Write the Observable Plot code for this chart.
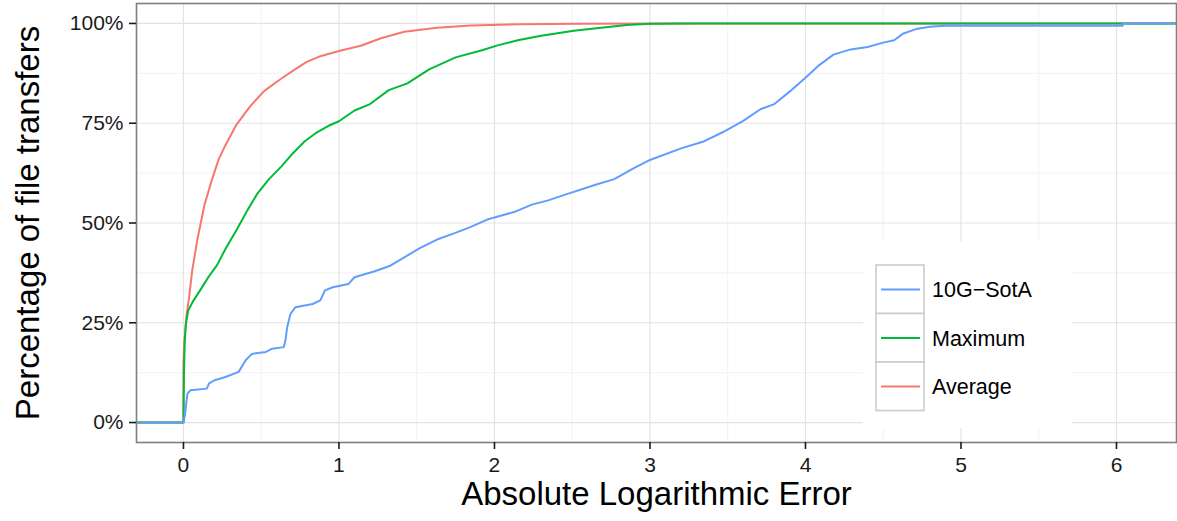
<!DOCTYPE html>
<html><head><meta charset="utf-8">
<script src="https://cdn.jsdelivr.net/npm/d3@7"></script>
<script src="https://cdn.jsdelivr.net/npm/@observablehq/plot@0.6"></script>
<style>body{margin:0;background:#fff;} #chart{position:relative;width:1177px;height:521px;}</style>
</head><body><div id="chart"></div>
<script>
// Series and colours
const seriesNames = ["10G\u2212SotA", "Maximum", "Average"];
const seriesColors = ["#619CFF", "#00BA38", "#F8766D"];
const drawOrder = ["Average", "Maximum", "10G\u2212SotA"];

// Average (ECDF, % of file transfers)
const averageX = [0, 0, 0.005, 0.02, 0.035, 0.056, 0.09, 0.135, 0.18, 0.227, 0.27, 0.34, 0.43, 0.52, 0.63, 0.71, 0.79, 0.88, 1.0, 1.14, 1.27, 1.42, 1.63, 1.85, 2.17, 2.55, 3.2];
const averageY = [0, 15, 20, 27, 31, 38, 46, 54.5, 60.5, 66, 69.5, 74.6, 79.3, 83.1, 86.2, 88.3, 90.3, 91.8, 93.1, 94.4, 96.3, 97.9, 98.9, 99.5, 99.8, 99.93, 100];

// Maximum
const maximumX = [0, 0.003, 0.008, 0.015, 0.03, 0.06, 0.11, 0.163, 0.217, 0.27, 0.345, 0.41, 0.474, 0.55, 0.63, 0.70, 0.78, 0.85, 0.93, 1.0, 1.1, 1.2, 1.32, 1.44, 1.58, 1.75, 1.92, 2.02, 2.15, 2.3, 2.51, 2.85, 3.0, 3.3];
const maximumY = [0, 12, 20, 24.5, 28, 30.3, 33.3, 36.6, 39.5, 43.5, 48.5, 53.1, 57.3, 61, 64.2, 67.3, 70.5, 72.5, 74.3, 75.5, 78.2, 79.8, 83.3, 85, 88.5, 91.5, 93.3, 94.5, 95.8, 96.9, 98.2, 99.6, 99.9, 100];

// 10G-SotA
const sotaX = [0, 0.01, 0.025, 0.045, 0.15, 0.165, 0.2, 0.27, 0.355, 0.4, 0.44, 0.53, 0.57, 0.645, 0.656, 0.667, 0.688, 0.72, 0.83, 0.88, 0.91, 0.96, 1.06, 1.1, 1.23, 1.33, 1.42, 1.52, 1.64, 1.74, 1.84, 1.95, 2.0, 2.13, 2.24, 2.34, 2.47, 2.65, 2.77, 2.9, 3.0, 3.2, 3.35, 3.47, 3.6, 3.71, 3.8, 3.91, 4.0, 4.08, 4.18, 4.29, 4.4, 4.5, 4.57, 4.63, 4.72, 4.8, 4.9, 6.04, 6.04];
const sotaY = [0, 2, 7.2, 8.1, 8.5, 9.8, 10.6, 11.4, 12.7, 15.6, 17.2, 17.7, 18.5, 18.9, 20.6, 23.9, 27.2, 28.9, 29.7, 30.6, 33.1, 33.9, 34.7, 36.4, 37.9, 39.3, 41.4, 43.7, 46, 47.4, 48.9, 50.8, 51.4, 52.8, 54.6, 55.6, 57.3, 59.6, 61, 63.8, 65.8, 68.7, 70.5, 72.8, 75.6, 78.5, 79.8, 83.3, 86.4, 89.3, 92.2, 93.5, 94.1, 95.2, 95.8, 97.5, 98.7, 99.2, 99.45, 99.45, 100];

// Axis ticks
const xTicks = [0, 1, 2, 3, 4, 5, 6];
const xMinorTicks = [0.5, 1.5, 2.5, 3.5, 4.5, 5.5];
const yTicks = [0, 0.25, 0.5, 0.75, 1];
const yTickLabels = ["0%", "25%", "50%", "75%", "100%"];
const yMinorTicks = [0.125, 0.375, 0.625, 0.875];
const xTitle = "Absolute Logarithmic Error";
const yTitle = "Percentage of file transfers";

const xDomain = [-0.302, 6.386];
const yDomain = [-0.05, 1.05];

function toRows(name, xs, ys) {
  const rows = [{series: name, x: xDomain[0], y: 0}];
  xs.forEach((x, i) => rows.push({series: name, x, y: ys[i] / 100}));
  rows.push({series: name, x: xDomain[1], y: 1});
  return rows;
}
const bySeries = {
  "Average": toRows("Average", averageX, averageY),
  "Maximum": toRows("Maximum", maximumX, maximumY),
  "10G\u2212SotA": toRows("10G\u2212SotA", sotaX, sotaY)
};
const rows = drawOrder.flatMap(n => bySeries[n]);

const font = "'Liberation Sans', Arial, Helvetica, sans-serif";
const chart = Plot.plot({
  width: 1177, height: 521,
  marginLeft: 136, marginRight: 1, marginTop: 3, marginBottom: 79,
  style: {fontFamily: font, background: "white", color: "#1a1a1a"},
  x: {domain: xDomain},
  y: {domain: yDomain},
  color: {domain: seriesNames, range: seriesColors},
  marks: [
    Plot.ruleX(xMinorTicks, {stroke: "#f4f4f4", strokeWidth: 1.2}),
    Plot.ruleY(yMinorTicks, {stroke: "#f4f4f4", strokeWidth: 1.2}),
    Plot.ruleX(xTicks, {stroke: "#e3e3e3", strokeWidth: 1.2}),
    Plot.ruleY(yTicks, {stroke: "#e3e3e3", strokeWidth: 1.2}),
    Plot.line(rows, {x: "x", y: "y", z: "series", stroke: "series", strokeWidth: 2, clip: true}),
    Plot.frame({stroke: "#7f7f7f", strokeWidth: 1.6}),
    Plot.axisX({ticks: xTicks, tickFormat: d => String(d), tickSize: 7, tickPadding: 8, fontSize: 21, label: null, color: "#1a1a1a", strokeWidth: 1.6}),
    Plot.axisY({ticks: yTicks, tickFormat: (d, i) => yTickLabels[i], tickSize: 7, tickPadding: 6, fontSize: 21, label: null, color: "#1a1a1a", strokeWidth: 1.6}),
    Plot.text([xTitle], {frameAnchor: "bottom", dy: 62, fontSize: 33, fill: "#000"}),
    Plot.text([yTitle], {frameAnchor: "left", textAnchor: "middle", rotate: -90, dx: -108, fontSize: 33, fill: "#000"})
  ]
});
document.getElementById("chart").appendChild(chart);

// Legend (inside panel, bottom right)
const svg = d3.select(chart);
const lg = svg.append("g").attr("font-family", font).attr("text-anchor", "start");
lg.append("rect").attr("x", 863).attr("y", 241).attr("width", 209).attr("height", 187).attr("fill", "white");
seriesNames.forEach((name, i) => {
  const y0 = 265 + i * 48.5;
  lg.append("rect").attr("x", 876).attr("y", y0).attr("width", 48).attr("height", 48.5)
    .attr("fill", "white").attr("stroke", "#cccccc").attr("stroke-width", 1.6);
  lg.append("line").attr("x1", 881).attr("x2", 920).attr("y1", y0 + 24.5).attr("y2", y0 + 24.5)
    .attr("stroke", seriesColors[i]).attr("stroke-width", 2);
  lg.append("text").attr("x", 932).attr("y", y0 + 24.5).attr("dy", "0.36em").attr("text-anchor", "start")
    .attr("font-size", 21.5).attr("fill", "#000").text(name);
});
</script>
</body></html>
